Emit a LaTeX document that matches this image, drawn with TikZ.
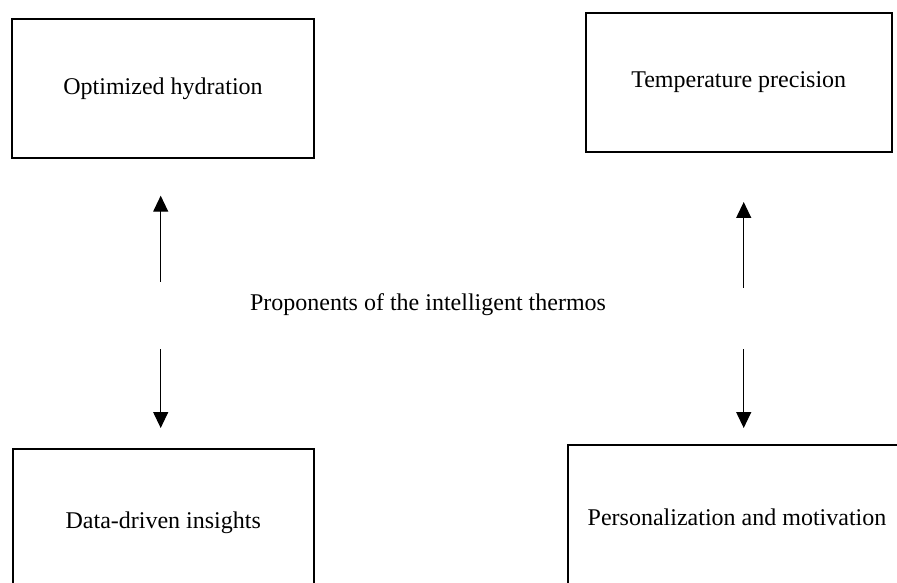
\documentclass[tikz,border=0pt]{standalone}
\usepackage{fontspec}
\setmainfont{Liberation Serif}
\usetikzlibrary{arrows.meta}
\begin{document}
\begin{tikzpicture}[x=0.5pt,y=-0.5pt,
  box/.style={draw=black,line width=1pt,inner sep=0pt,font=\fontsize{12pt}{14pt}\selectfont},
  lbl/.style={inner sep=0pt,font=\fontsize{12pt}{14pt}\selectfont},
  arr/.style={draw=black,line width=0.6pt,-{Triangle[length=8pt,width=7.5pt]}}]
\useasboundingbox (0,0) rectangle (897,582);
\clip (0,0) rectangle (897,582);
\node[box,minimum width=151pt,minimum height=69.5pt] (opt) at (163,88.5) {Optimized hydration};
\node[box,minimum width=153pt,minimum height=69.5pt] (temp) at (738.7,82.5) {Temperature precision};
\node[box,minimum width=150.75pt,minimum height=73.5pt] (data) at (163.25,522.7) {Data-driven insights};
\node[box,minimum width=169pt,minimum height=72pt] (pers) at (737,517) {Personalization and motivation};
\node[lbl] (prop) at (428,305) {Proponents of the intelligent thermos};
\coordinate (lu1) at (160.7,281.7);
\coordinate (lu2) at (160.7,195.7);
\coordinate (ld1) at (160.7,349);
\coordinate (ld2) at (160.7,428);
\coordinate (ru1) at (743.7,287.7);
\coordinate (ru2) at (743.7,202);
\coordinate (rd1) at (743.7,349.3);
\coordinate (rd2) at (743.7,428);
\draw[arr] (lu1) -- (lu2);
\draw[arr] (ld1) -- (ld2);
\draw[arr] (ru1) -- (ru2);
\draw[arr] (rd1) -- (rd2);
\end{tikzpicture}
\end{document}
